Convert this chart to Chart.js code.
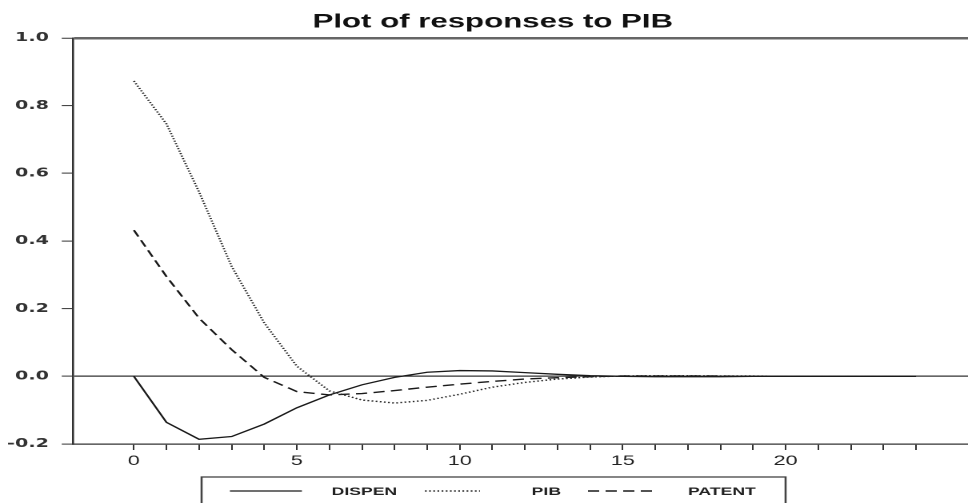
<!DOCTYPE html>
<html>
<head>
<meta charset="utf-8">
<script src="https://cdn.jsdelivr.net/npm/chart.js"></script>
<style>
  html, body { margin: 0; padding: 0; background: #fff; overflow: hidden; }
  /* the reference is stretched sideways, so the whole chart is drawn narrow and widened */
  #wrap { width: 616px; height: 520px; transform: scaleX(1.6); transform-origin: 0 0; }
</style>
</head>
<body>
<div id="wrap"><canvas id="myChart"></canvas></div>
<script>
const steps = [0,1,2,3,4,5,6,7,8,9,10,11,12,13,14,15,16,17,18,19,20,21,22,23,24];
const dispen = [0, -0.136, -0.186, -0.178, -0.141, -0.093, -0.055, -0.025, -0.003, 0.012, 0.017, 0.016, 0.011, 0.006, 0.002, 0.000, -0.001, -0.001, -0.001, 0, 0, 0, 0, 0, 0];
const pib = [0.873, 0.746, 0.545, 0.325, 0.158, 0.030, -0.043, -0.070, -0.079, -0.071, -0.053, -0.032, -0.018, -0.008, -0.002, 0.001, 0.002, 0.002, 0.001, 0.001, 0, 0, 0, 0, 0];
const patent = [0.432, 0.295, 0.172, 0.079, -0.003, -0.045, -0.055, -0.051, -0.042, -0.032, -0.023, -0.015, -0.008, -0.004, -0.001, 0.001, 0.001, 0.001, 0.001, 0, 0, 0, 0, 0, 0];
const yTicks = [-0.2, 0.0, 0.2, 0.4, 0.6, 0.8, 1.0];
const xLabels = [0, 5, 10, 15, 20];
const title = 'Plot of responses to PIB';

const pts = arr => steps.map((s, i) => ({ x: s, y: arr[i] }));

// title + boxed legend under the axis
const decor = {
  id: 'decor',
  afterDraw(chart) {
    const ctx = chart.ctx;
    ctx.save();
    ctx.fillStyle = '#111';
    ctx.font = 'bold 19.5px "Liberation Sans", Arial, sans-serif';
    ctx.textAlign = 'center';
    ctx.textBaseline = 'alphabetic';
    ctx.fillText(title, 308, 27.5);

    ctx.lineWidth = 1.3;
    ctx.strokeStyle = '#444';
    ctx.setLineDash([]);
    ctx.strokeRect(126, 477, 365, 45);

    const samples = [[143.7, 188.7, 207.3], [265.6, 300, 332.3], [367.5, 410.6, 430]];
    ctx.font = 'bold 11px "Liberation Sans", Arial, sans-serif';
    ctx.textAlign = 'left';
    chart.data.datasets.forEach((ds, i) => {
      const s = samples[i];
      ctx.beginPath();
      ctx.setLineDash(ds.borderDash || []);
      ctx.lineWidth = ds.borderWidth;
      ctx.strokeStyle = ds.borderColor;
      ctx.moveTo(s[0], 491);
      ctx.lineTo(s[1], 491);
      ctx.stroke();
      ctx.setLineDash([]);
      ctx.fillStyle = '#222';
      ctx.fillText(ds.label, s[2], 495);
    });
    ctx.restore();
  }
};

const near = (a, b) => Math.abs(a - b) < 1e-9;

new Chart(document.getElementById('myChart'), {
  type: 'line',
  data: {
    datasets: [
      { label: 'DISPEN', data: pts(dispen), borderColor: '#1a1a1a', borderWidth: 1.3, borderDash: [] },
      { label: 'PIB', data: pts(pib), borderColor: '#2a2a2a', borderWidth: 1.4, borderDash: [1.1, 1.5] },
      { label: 'PATENT', data: pts(patent), borderColor: '#1a1a1a', borderWidth: 1.4, borderDash: [7, 4] }
    ]
  },
  options: {
    responsive: true,
    maintainAspectRatio: false,
    devicePixelRatio: 2,
    animation: false,
    layout: { padding: { top: 38, left: 0, right: 0, bottom: 0 } },
    elements: { point: { radius: 0 }, line: { tension: 0, fill: false } },
    plugins: { legend: { display: false }, title: { display: false }, tooltip: { enabled: false } },
    scales: {
      x: {
        type: 'linear',
        min: -1.87,
        max: 26.1,
        afterFit: s => { s.height = 76; },
        afterBuildTicks: s => { s.ticks = steps.map(v => ({ value: v })); },
        grid: { drawOnChartArea: false, drawTicks: true, tickLength: 6, tickColor: '#333', tickWidth: 1 },
        border: { display: true, color: '#333', width: 1.3 },
        ticks: {
          autoSkip: false,
          maxRotation: 0,
          padding: 3,
          color: '#222',
          font: { family: '"Liberation Sans", Arial, sans-serif', size: 13.5 },
          callback: v => xLabels.includes(v) ? String(v) : ''
        }
      },
      y: {
        min: -0.2,
        max: 1.0,
        afterFit: s => { s.width = 45.6; },
        afterBuildTicks: s => { s.ticks = yTicks.map(v => ({ value: v })); },
        grid: {
          drawTicks: true,
          tickLength: 7,
          tickColor: '#333',
          tickWidth: 1,
          color: c => near(c.tick.value, 0) ? '#333' : near(c.tick.value, 1) ? '#666' : 'rgba(0,0,0,0)',
          lineWidth: c => near(c.tick.value, 1) ? 2.5 : 1.2
        },
        border: { display: true, color: '#333', width: 1.3 },
        ticks: {
          padding: 8,
          color: '#333',
          font: { family: '"DejaVu Sans", Verdana, sans-serif', size: 12, weight: 'bold' },
          callback: v => near(v, 0) ? '0.0' : v.toFixed(1)
        }
      }
    }
  },
  plugins: [decor]
});
</script>
</body>
</html>
